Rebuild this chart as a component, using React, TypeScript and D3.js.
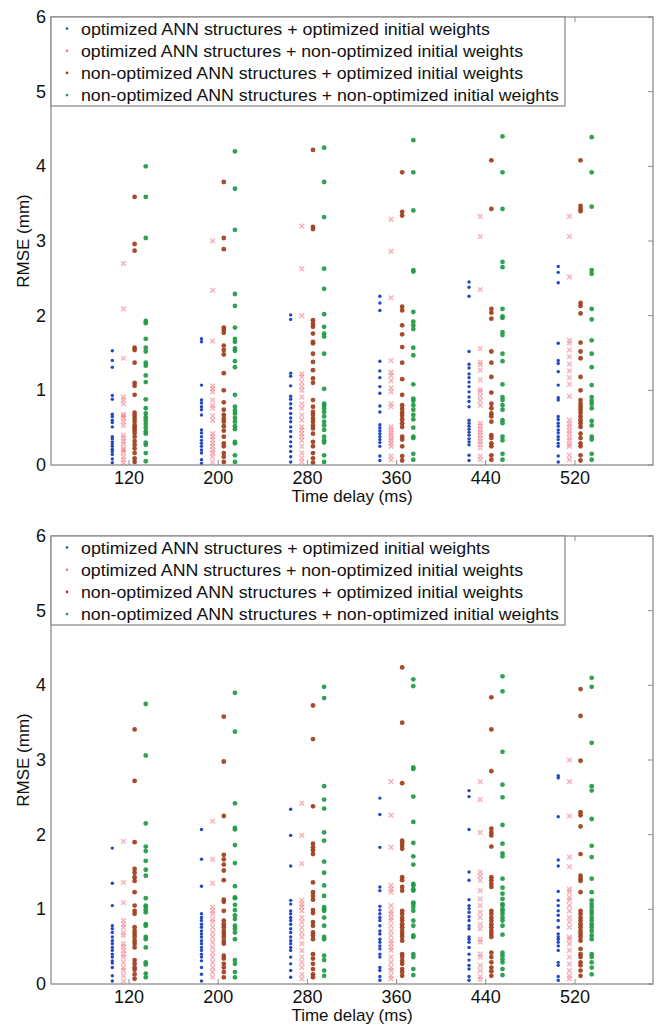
import React from 'react';
import * as d3 from 'd3';

const delays = [120, 200, 280, 360, 440, 520];
const yTicks = [0, 1, 2, 3, 4, 5, 6];
const legendLabels = [
  'optimized ANN structures + optimized initial weights',
  'optimized ANN structures + non-optimized initial weights',
  'non-optimized ANN structures + optimized initial weights',
  'non-optimized ANN structures + non-optimized initial weights',
];
// offsets (ms) of each series around its delay tick
const offsets = [-15, -5, 5, 15];

// ---- upper panel ----
const topBlue = [
  [1.53, 1.4, 1.31, 0.93, 0.88, 0.68, 0.65, 0.6, 0.57, 0.51, 0.38, 0.35, 0.31, 0.28, 0.25, 0.21, 0.18, 0.14, 0.08, 0.03],
  [1.69, 1.65, 1.07, 0.87, 0.83, 0.78, 0.74, 0.67, 0.47, 0.43, 0.38, 0.33, 0.29, 0.25, 0.2, 0.16, 0.07, 0.02],
  [2.01, 1.95, 1.23, 1.19, 1.06, 0.92, 0.88, 0.82, 0.76, 0.69, 0.63, 0.58, 0.51, 0.45, 0.38, 0.31, 0.25, 0.18, 0.11, 0.04],
  [2.26, 2.17, 2.07, 1.39, 1.26, 1.17, 1.05, 0.96, 0.79, 0.71, 0.54, 0.5, 0.46, 0.42, 0.38, 0.34, 0.3, 0.25, 0.12, 0.06],
  [2.45, 2.38, 2.26, 1.52, 1.35, 1.3, 1.22, 1.17, 1.11, 1.05, 0.98, 0.91, 0.85, 0.78, 0.6, 0.56, 0.52, 0.48, 0.44, 0.4, 0.35, 0.31, 0.27, 0.13, 0.06],
  [2.66, 2.58, 2.44, 1.63, 1.4, 1.36, 1.25, 1.07, 0.9, 0.87, 0.65, 0.61, 0.56, 0.52, 0.47, 0.43, 0.38, 0.34, 0.29, 0.25, 0.12, 0.04],
];
const topPink = [
  [2.7, 2.09, 1.43, 0.91, 0.87, 0.82, 0.68, 0.66, 0.63, 0.58, 0.53, 0.4, 0.36, 0.32, 0.28, 0.22, 0.2, 0.17, 0.11, 0.07, 0.03],
  [3.0, 2.34, 1.66, 1.06, 1.02, 0.98, 0.87, 0.8, 0.76, 0.66, 0.6, 0.42, 0.38, 0.34, 0.29, 0.25, 0.2, 0.16, 0.11, 0.04],
  [3.2, 2.63, 2.0, 1.22, 1.18, 1.11, 1.05, 1.0, 0.91, 0.82, 0.76, 0.67, 0.6, 0.51, 0.47, 0.42, 0.38, 0.33, 0.25, 0.16, 0.09, 0.04],
  [3.29, 2.86, 2.24, 1.4, 1.24, 1.2, 1.13, 1.03, 0.98, 0.82, 0.78, 0.51, 0.47, 0.43, 0.4, 0.36, 0.33, 0.29, 0.25, 0.12, 0.07],
  [3.33, 3.06, 2.35, 1.56, 1.38, 1.34, 1.27, 1.14, 1.01, 0.98, 0.92, 0.86, 0.8, 0.56, 0.52, 0.48, 0.44, 0.4, 0.36, 0.32, 0.28, 0.23, 0.12, 0.07],
  [3.33, 3.06, 2.52, 1.67, 1.63, 1.54, 1.45, 1.35, 1.26, 1.17, 1.08, 0.92, 0.6, 0.55, 0.51, 0.46, 0.42, 0.37, 0.33, 0.28, 0.25, 0.13, 0.07],
];
const topBrown = [
  [3.59, 2.96, 2.87, 1.57, 1.54, 1.37, 1.1, 1.06, 0.94, 0.7, 0.66, 0.62, 0.58, 0.53, 0.5, 0.47, 0.43, 0.38, 0.32, 0.27, 0.22, 0.16, 0.09, 0.04],
  [3.79, 3.04, 2.89, 1.84, 1.81, 1.77, 1.6, 1.54, 1.48, 1.23, 1.0, 0.84, 0.74, 0.67, 0.62, 0.58, 0.52, 0.46, 0.38, 0.29, 0.25, 0.16, 0.11, 0.04],
  [4.22, 3.19, 3.16, 1.94, 1.89, 1.85, 1.76, 1.65, 1.63, 1.49, 1.38, 1.27, 1.16, 1.1, 0.87, 0.78, 0.71, 0.67, 0.62, 0.58, 0.53, 0.49, 0.42, 0.31, 0.25, 0.16, 0.09, 0.03],
  [3.92, 3.39, 3.34, 2.12, 2.07, 1.87, 1.75, 1.58, 1.37, 1.15, 0.94, 0.8, 0.75, 0.7, 0.66, 0.61, 0.56, 0.51, 0.38, 0.34, 0.25, 0.12, 0.06],
  [4.08, 3.43, 2.09, 2.04, 1.96, 1.52, 1.37, 1.18, 0.97, 0.82, 0.76, 0.69, 0.65, 0.58, 0.4, 0.36, 0.29, 0.25, 0.13, 0.07],
  [4.08, 3.47, 3.43, 3.4, 2.17, 2.13, 2.03, 1.64, 1.52, 1.43, 1.18, 1.0, 0.87, 0.82, 0.78, 0.74, 0.7, 0.65, 0.6, 0.56, 0.51, 0.42, 0.36, 0.29, 0.25, 0.13, 0.06],
];
const topGreen = [
  [4.0, 3.59, 3.04, 1.93, 1.9, 1.69, 1.57, 1.52, 1.37, 1.33, 1.2, 1.11, 0.88, 0.76, 0.69, 0.64, 0.6, 0.55, 0.5, 0.45, 0.42, 0.3, 0.27, 0.16, 0.05],
  [4.2, 3.7, 3.15, 2.29, 2.13, 1.84, 1.69, 1.65, 1.56, 1.53, 1.39, 1.31, 0.94, 0.78, 0.73, 0.69, 0.63, 0.58, 0.52, 0.48, 0.31, 0.29, 0.13, 0.04],
  [4.25, 3.79, 3.32, 2.63, 2.36, 2.02, 1.85, 1.76, 1.72, 1.49, 1.02, 0.82, 0.8, 0.76, 0.71, 0.65, 0.58, 0.53, 0.47, 0.38, 0.33, 0.3, 0.13, 0.04],
  [4.35, 3.92, 3.41, 2.61, 2.59, 2.05, 1.92, 1.87, 1.82, 1.57, 1.47, 1.08, 0.89, 0.86, 0.8, 0.74, 0.67, 0.61, 0.5, 0.38, 0.36, 0.15, 0.07],
  [4.4, 3.92, 3.43, 2.72, 2.65, 2.09, 1.99, 1.97, 1.78, 1.74, 1.49, 1.39, 1.08, 0.91, 0.87, 0.8, 0.74, 0.6, 0.56, 0.38, 0.33, 0.15, 0.07],
  [4.39, 3.92, 3.46, 2.61, 2.56, 2.09, 1.95, 1.67, 1.49, 1.31, 1.07, 0.91, 0.86, 0.82, 0.76, 0.59, 0.53, 0.38, 0.34, 0.15, 0.07],
];

// ---- lower panel ----
const botBlue = [
  [1.82, 1.35, 1.05, 0.78, 0.74, 0.69, 0.63, 0.58, 0.54, 0.49, 0.45, 0.4, 0.36, 0.31, 0.28, 0.22, 0.11, 0.04],
  [2.07, 1.67, 1.31, 0.94, 0.89, 0.85, 0.8, 0.76, 0.71, 0.67, 0.63, 0.58, 0.54, 0.49, 0.45, 0.4, 0.36, 0.31, 0.22, 0.13, 0.04],
  [2.34, 1.99, 1.58, 1.12, 1.07, 0.98, 0.94, 0.89, 0.85, 0.8, 0.74, 0.69, 0.63, 0.58, 0.54, 0.49, 0.45, 0.36, 0.27, 0.18, 0.09],
  [2.49, 2.27, 1.83, 1.3, 1.25, 1.04, 0.99, 0.94, 0.89, 0.85, 0.78, 0.71, 0.67, 0.6, 0.56, 0.51, 0.47, 0.4, 0.36, 0.22, 0.18, 0.1, 0.05],
  [2.59, 2.51, 2.07, 1.5, 1.39, 1.13, 1.05, 1.01, 0.96, 0.9, 0.85, 0.78, 0.74, 0.63, 0.6, 0.56, 0.49, 0.4, 0.32, 0.25, 0.2, 0.1, 0.05],
  [2.79, 2.76, 2.24, 1.66, 1.58, 1.24, 1.12, 1.05, 0.98, 0.92, 0.85, 0.76, 0.67, 0.63, 0.6, 0.56, 0.51, 0.45, 0.29, 0.25, 0.1, 0.05],
];
const botPink = [
  [1.91, 1.36, 1.09, 0.85, 0.8, 0.76, 0.69, 0.65, 0.54, 0.5, 0.45, 0.4, 0.36, 0.29, 0.22, 0.18, 0.11, 0.04],
  [2.18, 1.67, 1.35, 1.03, 0.98, 0.94, 0.87, 0.83, 0.76, 0.69, 0.63, 0.56, 0.49, 0.42, 0.36, 0.29, 0.22, 0.16, 0.09],
  [2.42, 1.99, 1.61, 1.12, 1.07, 1.03, 0.98, 0.89, 0.83, 0.76, 0.69, 0.63, 0.54, 0.45, 0.36, 0.29, 0.22, 0.13, 0.07],
  [2.71, 2.26, 1.83, 1.32, 1.27, 1.23, 1.05, 0.98, 0.94, 0.89, 0.85, 0.78, 0.71, 0.65, 0.58, 0.54, 0.49, 0.45, 0.36, 0.29, 0.22, 0.18, 0.11, 0.07],
  [2.71, 2.47, 2.03, 1.5, 1.45, 1.39, 1.25, 1.14, 1.05, 0.96, 0.89, 0.8, 0.74, 0.6, 0.56, 0.4, 0.36, 0.25, 0.18, 0.1, 0.06],
  [3.0, 2.71, 2.25, 1.7, 1.57, 1.27, 1.23, 1.16, 1.12, 1.05, 0.98, 0.89, 0.83, 0.76, 0.63, 0.6, 0.54, 0.45, 0.36, 0.27, 0.18, 0.11, 0.07],
];
const botBrown = [
  [3.41, 2.72, 1.9, 1.54, 1.49, 1.43, 1.38, 1.23, 1.05, 0.98, 0.94, 0.76, 0.71, 0.67, 0.63, 0.58, 0.54, 0.49, 0.32, 0.27, 0.22, 0.19, 0.13, 0.07],
  [3.58, 2.98, 2.25, 1.73, 1.67, 1.6, 1.52, 1.39, 1.13, 1.1, 0.98, 0.85, 0.8, 0.76, 0.71, 0.67, 0.63, 0.58, 0.54, 0.38, 0.34, 0.27, 0.22, 0.16, 0.09],
  [3.73, 3.28, 2.38, 1.88, 1.83, 1.79, 1.74, 1.36, 1.23, 1.18, 1.13, 0.99, 0.95, 0.83, 0.78, 0.69, 0.65, 0.6, 0.4, 0.34, 0.27, 0.2, 0.13, 0.09],
  [4.24, 3.5, 2.69, 1.92, 1.89, 1.85, 1.81, 1.43, 1.39, 1.3, 1.25, 0.98, 0.94, 0.89, 0.85, 0.8, 0.76, 0.71, 0.67, 0.63, 0.58, 0.4, 0.36, 0.31, 0.27, 0.2, 0.16, 0.11],
  [3.84, 3.41, 2.85, 2.08, 2.03, 1.99, 1.84, 1.43, 1.39, 1.34, 1.3, 0.98, 0.94, 0.89, 0.85, 0.8, 0.76, 0.71, 0.67, 0.63, 0.42, 0.36, 0.29, 0.22, 0.17, 0.11],
  [3.95, 3.59, 2.99, 2.3, 2.26, 2.11, 1.74, 1.45, 1.41, 1.38, 1.23, 0.98, 0.94, 0.89, 0.85, 0.8, 0.76, 0.71, 0.67, 0.63, 0.58, 0.47, 0.4, 0.36, 0.29, 0.25, 0.18, 0.11],
];
const botGreen = [
  [3.75, 3.06, 2.15, 1.84, 1.78, 1.65, 1.53, 1.45, 1.15, 1.05, 1.03, 0.99, 0.96, 0.8, 0.78, 0.63, 0.6, 0.49, 0.29, 0.26, 0.14, 0.09],
  [3.9, 3.38, 2.42, 2.09, 2.07, 1.86, 1.62, 1.31, 1.16, 1.15, 1.06, 0.99, 0.92, 0.87, 0.78, 0.74, 0.69, 0.6, 0.32, 0.27, 0.16, 0.09],
  [3.98, 3.83, 2.65, 2.47, 2.35, 2.03, 1.92, 1.64, 1.49, 1.32, 1.18, 1.03, 1.0, 0.98, 0.89, 0.78, 0.63, 0.6, 0.38, 0.32, 0.18, 0.11],
  [4.08, 3.99, 2.9, 2.88, 2.51, 2.17, 1.89, 1.71, 1.6, 1.34, 1.32, 1.27, 1.25, 1.09, 1.07, 1.03, 0.98, 0.85, 0.78, 0.65, 0.63, 0.4, 0.36, 0.2, 0.12],
  [4.12, 3.92, 3.11, 2.67, 2.5, 2.13, 1.88, 1.75, 1.71, 1.41, 1.29, 1.21, 1.14, 1.07, 1.05, 1.0, 0.98, 0.94, 0.89, 0.85, 0.78, 0.66, 0.42, 0.38, 0.33, 0.29, 0.2, 0.12],
  [4.1, 3.98, 3.23, 2.65, 2.59, 2.21, 1.85, 1.7, 1.41, 1.23, 1.12, 1.07, 1.03, 0.98, 0.94, 0.89, 0.85, 0.8, 0.76, 0.71, 0.65, 0.6, 0.4, 0.36, 0.29, 0.22, 0.13],
];

const FONT = 'Liberation Sans, Arial, sans-serif';
const AXIS = '#8c8c8c';
const colors = ['#2147c4', '#ef7583', '#9e3d1b', '#1f9a45'];
// the source image is stretched a little horizontally; legend text widths
const legendWidths = [409, 442, 442, 478];

const Marker = ({ k, x, y }: { k: number; x: number; y: number }) => {
  if (k === 0) return <circle cx={x} cy={y} r={1.7} fill={colors[0]} />;
  if (k === 1)
    return (
      <path
        d={`M${x - 2.3},${y - 2.3}L${x + 2.3},${y + 2.3}M${x - 2.3},${y + 2.3}L${x + 2.3},${y - 2.3}`}
        stroke={colors[1]}
        strokeWidth={1.5}
        strokeOpacity={0.55}
        fill="none"
      />
    );
  return <circle cx={x} cy={y} r={2.4} fill={colors[k]} fillOpacity={0.92} />;
};

const Panel = ({ top, series }: { top: number; series: number[][][] }) => {
  const left = 51;
  const right = 653;
  const bottom = top + 448;
  const x = d3.scaleLinear().domain([50, 590]).range([left, right]);
  const y = d3.scaleLinear().domain([0, 6]).range([bottom, top]);
  const legendRows = legendLabels.map((_, i) => top + 11.5 + i * 22.2);

  return (
    <g>
      {/* ticks */}
      {delays.map((d) => (
        <g key={d}>
          <line x1={x(d)} x2={x(d)} y1={bottom} y2={bottom - 5} stroke={AXIS} />
          <line x1={x(d)} x2={x(d)} y1={top} y2={top + 5} stroke={AXIS} />
          <text x={x(d)} y={bottom + 19} textAnchor="middle" fontSize={18} fill="#111">
            {d}
          </text>
        </g>
      ))}
      {yTicks.map((t) => (
        <g key={t}>
          <line x1={right} x2={right - 5} y1={y(t)} y2={y(t)} stroke={AXIS} />
          <text x={46} y={y(t) + 6} textAnchor="end" fontSize={18} fill="#111">
            {t}
          </text>
        </g>
      ))}
      {/* points */}
      {series.map((groups, k) =>
        groups.map((vals, gi) =>
          vals.map((v, j) => (
            <Marker key={`${k}-${gi}-${j}`} k={k} x={x(delays[gi] + offsets[k])} y={y(v)} />
          ))
        )
      )}
      <rect x={left} y={top} width={right - left} height={bottom - top} fill="none" stroke={AXIS} strokeWidth={1.3} />
      {/* legend */}
      <rect x={left} y={top} width={514} height={89} fill="#fff" stroke={AXIS} strokeWidth={1.3} />
      {legendLabels.map((lab, i) => (
        <g key={lab}>
          <circle cx={67} cy={legendRows[i]} r={1.3} fill={colors[i]} />
          <text
            x={81}
            y={legendRows[i] + 6}
            fontSize={16.5}
            fill="#111"
            textLength={legendWidths[i]}
            lengthAdjust="spacingAndGlyphs"
          >
            {lab}
          </text>
        </g>
      ))}
      <text x={(left + right) / 2} y={bottom + 37} textAnchor="middle" fontSize={17} fill="#111">
        Time delay (ms)
      </text>
      <text
        transform={`translate(29,${(top + bottom) / 2}) rotate(-90)`}
        textAnchor="middle"
        fontSize={17}
        fill="#111"
      >
        RMSE (mm)
      </text>
    </g>
  );
};

export default function App() {
  return (
    <svg
      width={657}
      height={1030}
      style={{ position: 'absolute', left: 0, top: 0, background: '#fff' }}
      fontFamily={FONT}
    >
      <Panel top={17} series={[topBlue, topPink, topBrown, topGreen]} />
      <Panel top={536} series={[botBlue, botPink, botBrown, botGreen]} />
    </svg>
  );
}
